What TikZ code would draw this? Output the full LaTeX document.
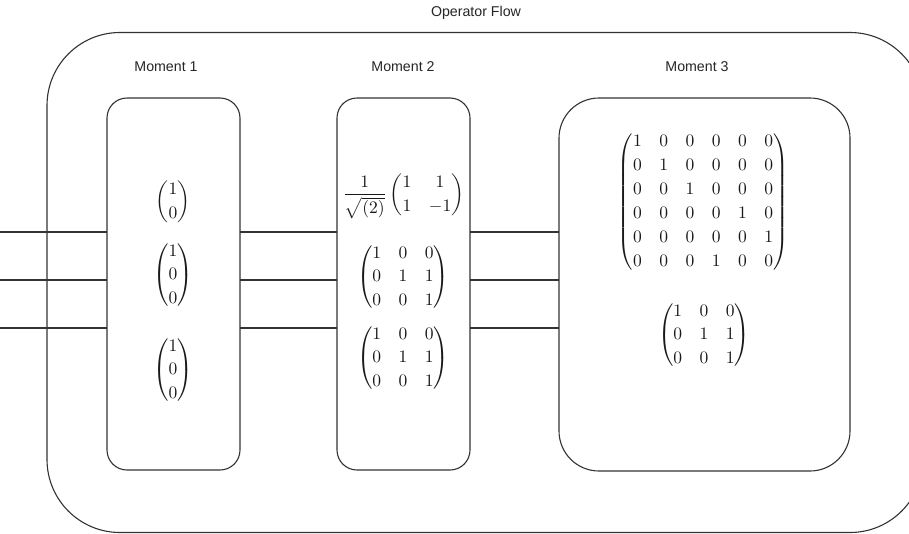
\documentclass[tikz,border=0pt]{standalone}
\usepackage{amsmath}
\usepackage{fontspec}
\newfontfamily\lblfont{Liberation Sans}
\newcommand{\mysz}{\setlength{\arraycolsep}{5pt}\def\arraystretch{1.12}\delimiterfactor=850 }
\newcommand{\bigsz}{\setlength{\arraycolsep}{5pt}\def\arraystretch{1.14}\delimiterfactor=901 }
\begin{document}
\begin{tikzpicture}[x=1pt,y=-1pt,
  frame/.style={draw=black!80, line width=1.1pt, rectangle, inner sep=0pt, outer sep=0pt},
  wire/.style={draw=black!80, line width=1.1pt},
  lbl/.style={font=\lblfont\fontsize{14.2}{16}\selectfont, text=black!85, inner sep=0pt},
  mth/.style={font=\mysz, inner sep=0pt, text=black!90, scale=1.75, transform shape},
  bigmth/.style={mth, font=\bigsz}]
\useasboundingbox (0,0) rectangle (909,533);
\clip (0,0) rectangle (909,533);
\fill[white] (0,0) rectangle (909,533);

% outer frame
\node[frame, rounded corners=73pt, minimum width=876pt, minimum height=500pt] (flow) at (485,282.5) {};
\node[lbl] (flowlbl) at (476,13) {Operator Flow};

% moment boxes
\node[frame, rounded corners=20pt, minimum width=133pt, minimum height=372pt] (m1) at (173.5,284) {};
\node[frame, rounded corners=20pt, minimum width=133pt, minimum height=372pt] (m2) at (403.5,284) {};
\node[frame, rounded corners=40pt, minimum width=291pt, minimum height=373pt] (m3) at (704.5,284.5) {};
\node[lbl] (l1) at (166,67) {Moment 1};
\node[lbl] (l2) at (403,67) {Moment 2};
\node[lbl] (l3) at (697,67) {Moment 3};

% wires
\coordinate (q0) at (0,232);
\coordinate (q1) at (0,280);
\coordinate (q2) at (0,328);
\foreach \q in {q0,q1,q2}{
  \draw[wire] (\q) -- (\q -| m1.west);
  \draw[wire] (m1.east |- \q) -- (m2.west |- \q);
  \draw[wire] (m2.east |- \q) -- (m3.west |- \q);
}

% moment 1 contents
\node[mth] (v1) at (173,202) {$\begin{pmatrix}1\\0\end{pmatrix}$};
\node[mth] (v2) at (173,275) {$\begin{pmatrix}1\\0\\0\end{pmatrix}$};
\node[mth] (v3) at (173,370) {$\begin{pmatrix}1\\0\\0\end{pmatrix}$};

% moment 2 contents
\node[mth] (h) at (403.5,195) {$\dfrac{1}{\sqrt{(2)}}\begin{pmatrix}1&1\\1&-1\end{pmatrix}$};
\node[mth] (c1) at (403,277) {$\begin{pmatrix}1&0&0\\0&1&1\\0&0&1\end{pmatrix}$};
\node[mth] (c2) at (403,358) {$\begin{pmatrix}1&0&0\\0&1&1\\0&0&1\end{pmatrix}$};

% moment 3 contents
\node[bigmth] (big) at (703,202) {$\begin{pmatrix}1&0&0&0&0&0\\0&1&0&0&0&0\\0&0&1&0&0&0\\0&0&0&0&1&0\\0&0&0&0&0&1\\0&0&0&1&0&0\end{pmatrix}$};
\node[mth] (c3) at (704,335) {$\begin{pmatrix}1&0&0\\0&1&1\\0&0&1\end{pmatrix}$};
\end{tikzpicture}
\end{document}
